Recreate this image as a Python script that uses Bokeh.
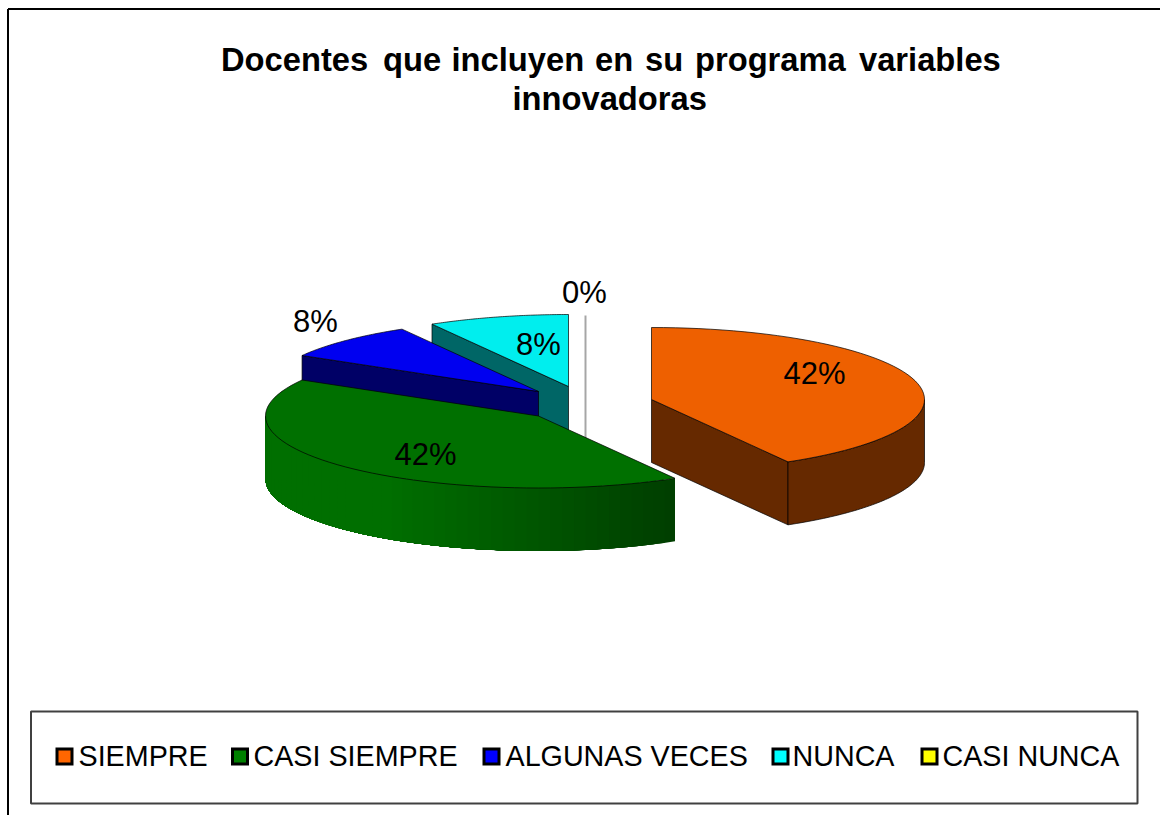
import math
from bokeh.plotting import figure
from bokeh.core.properties import value
from bokeh.embed import file_html
from bokeh.resources import INLINE

# ---- data ----
categories = ["SIEMPRE", "CASI SIEMPRE", "ALGUNAS VECES", "NUNCA", "CASI NUNCA"]
counts = [5, 5, 1, 1, 0]
title_lines = ["Docentes que incluyen en su programa variables", "innovadoras"]

# ---- style / layout ----
top_colors = ["#EE6000", "#007000", "#0000F0", "#00EEEE", "#FFFFFF"]
wall_colors = ["#662900", "#006F00", "#000066", "#006666", "#FFFFFF"]
legend_colors = ["#FF6600", "#008000", "#0000FF", "#00FFFF", "#FFFF00"]
centers = [(651, 399), (538, 415.5), (538, 391), (568, 386), (585, 387)]
label_pos = [(814, 373), (425, 454), (315, 321), (538, 344), (584, 292)]
swatch_x = [56.5, 232, 483.5, 772.5, 921.5]
text_x = [78, 253, 505, 792, 942]
title_word_x = [[220.5, 382.5, 451, 594.5, 644.5, 694.5, 858.5], [512]]
title_y = [59, 97.5]
RX, RY, DEPTH = 273, 72, 63
W, H = 1160, 815
FONT = value("Liberation Sans")

p = figure(width=W, height=H, x_range=(0, W), y_range=(H, 0),
           toolbar_location=None, output_backend="svg", min_border=0,
           background_fill_color="white", border_fill_color="white")
p.axis.visible = False
p.grid.visible = False
p.outline_line_color = None


def rim(c, deg, dy=0.0):
    a = math.radians(deg)
    return c[0] + RX * math.sin(a), c[1] - RY * math.cos(a) + dy


def arc(c, a0, a1, dy=0.0, n=60):
    pts = [rim(c, a0 + (a1 - a0) * i / n, dy) for i in range(n + 1)]
    return [q[0] for q in pts], [q[1] for q in pts]


def poly(xs, ys, fill, line="black", lw=0.7):
    p.patch(xs, ys, fill_color=fill, line_color=line, line_width=lw)


def green_shade(x):
    t = max(0.0, min(1.0, (x - 390) / (674 - 390)))
    return "#00%02X00" % round(0x6F + (0x3F - 0x6F) * t)


total = sum(counts)
spans = []
acc = 0.0
for v in counts:
    spans.append((acc, acc + 360.0 * v / total))
    acc += 360.0 * v / total

# painting order: zero slice and back slices first
for i in [4, 3, 2, 1, 0]:
    a0, a1 = spans[i]
    c = centers[i]
    if a1 - a0 == 0:
        tx, ty = rim(c, a0)
        p.segment([tx], [ty], [tx], [c[1] + DEPTH], line_color="#A6A6A6", line_width=2)
        continue
    # cut faces
    for a, show in ((a0, 180 < a0 < 360), (a1, 0 < a1 < 180)):
        if show:
            rx, ry = rim(c, a)
            poly([c[0], rx, rx, c[0]], [c[1], ry, ry + DEPTH, c[1] + DEPTH], wall_colors[i])
    # outer wall
    w0, w1 = max(a0, 90), min(a1, 270)
    if w1 > w0:
        if i == 1:
            # shaded wall: painted from the right, each band covering the rest
            steps = 48
            for k in range(steps):
                b0 = w0 + (w1 - w0) * k / steps
                xa, ya = arc(c, b0, w1, 0, 40)
                xb, yb = arc(c, w1, b0, DEPTH, 40)
                col = green_shade(rim(c, b0)[0])
                p.patch(xa + xb, ya + yb, fill_color=col, line_color=None)
        else:
            xa, ya = arc(c, w0, w1)
            xb, yb = arc(c, w1, w0, DEPTH)
            poly(xa + xb, ya + yb, wall_colors[i])
    # top face
    xa, ya = arc(c, a0, a1)
    poly([c[0]] + xa, [c[1]] + ya, top_colors[i])

# frame
p.segment([7.5], [8.5], [W], [8.5], line_color="black", line_width=2)
p.segment([7.5], [8.5], [7.5], [H], line_color="black", line_width=2)

# title, word by word (the original has wide word gaps)
for line, xs, y in zip(title_lines, title_word_x, title_y):
    for word, x in zip(line.split(), xs):
        p.text([x], [y], text=[word], text_font=FONT, text_font_size="32.7px", text_font_style="bold",
               text_align="left", text_baseline="middle", text_color="black")

# data labels
for v, (x, y) in zip(counts, label_pos):
    p.text([x], [y], text=["%d%%" % round(100 * v / total)], text_font=FONT, text_font_size="31px",
           text_align="center", text_baseline="middle", text_color="black")

# legend
p.quad(left=[30.5], right=[1137], top=[711], bottom=[803], fill_color="white",
       line_color="#404040", line_width=2)
for cat, col, sx, tx in zip(categories, legend_colors, swatch_x, text_x):
    p.quad(left=[sx], right=[sx + 15], top=[748.5], bottom=[763.5], fill_color=col,
           line_color="black", line_width=3, line_join="miter")
    p.text([tx], [755], text=[cat], text_font=FONT, text_font_size="28.7px",
           text_align="left", text_baseline="middle", text_color="black")

open("out.html", "w").write(file_html(p, INLINE))
